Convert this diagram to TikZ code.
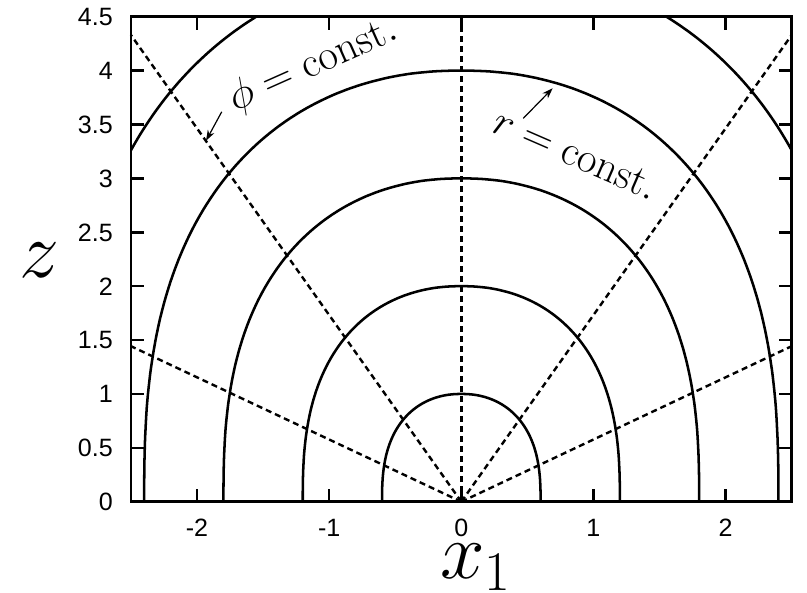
\RequirePackage{fix-cm}
\documentclass[tikz,border=0pt]{standalone}
\usepackage{fontspec}
\newfontfamily\tickfont{Liberation Sans}
\usetikzlibrary{arrows.meta}
\begin{document}
\begin{tikzpicture}[x=99.105pt, y=80.835pt,
  curve/.style={line width=1.9pt, line join=round},
  ray/.style={line width=1.8pt, dash pattern=on 4.5pt off 3pt},
  frame/.style={line width=1.9pt},
  ticklbl/.style={font=\tickfont\fontsize{18.8}{22}\selectfont, inner sep=0pt},
  lbl/.style={font=\fontsize{32}{38}\selectfont, inner sep=0pt},
  axl/.style={font=\fontsize{60}{72}\selectfont, inner sep=0pt},
  pointer/.style={line width=0.9pt, -{Stealth[length=8pt,width=5.5pt]}}]
\useasboundingbox (-3.491,-0.838) rectangle (2.616,4.655);
% r = const curves
\begin{scope}
\clip (-2.5,0) rectangle (2.5,4.5);
\foreach \r in {1,2,3,4,5}{
  \draw[curve] ({-0.6*\r},0)
    -- plot[domain=89.9:0.1, samples=120, variable=\t] ({-0.6*\r*pow(sin(\t),0.93)},{\r*pow(cos(\t),0.76)})
    -- (0,\r)
    -- plot[domain=0.1:89.9, samples=120, variable=\t] ({0.6*\r*pow(sin(\t),0.93)},{\r*pow(cos(\t),0.76)})
    -- ({0.6*\r},0);
}
\end{scope}
% phi = const rays
\coordinate (O) at (0,0);
\coordinate (e0) at (0,4.5);
\coordinate (e1) at (2.5,4.330);
\coordinate (e2) at (-2.5,4.330);
\coordinate (e3) at (2.5,1.443);
\coordinate (e4) at (-2.5,1.443);
\foreach \e in {e0,e1,e2,e3,e4}{\draw[ray] (O) -- (\e);}
% ticks
\foreach \xv in {-2,-1,0,1,2}{
  \draw[frame] (\xv,0) -- ++(0,9.75pt);
  \draw[frame] (\xv,4.5) -- ++(0,-9.75pt);
  \node[ticklbl, anchor=base] at (\xv,-0.325) {\xv};
}
\foreach \yv in {0,0.5,1,1.5,2,2.5,3,3.5,4,4.5}{
  \draw[frame] (-2.5,\yv) -- ++(9.75pt,0);
  \draw[frame] (2.5,\yv) -- ++(-9.75pt,0);
  \node[ticklbl, anchor=base east, yshift=-6.7pt] at (-2.636,\yv) {\yv};
}
\draw[frame] (-2.5,0) rectangle (2.5,4.5);
% labels
\node[lbl, rotate=24, anchor=base east] (phil) at (-0.464,4.302) {$\phi = \mathrm{const.}$};
\node[lbl, rotate=-23.5, anchor=base west] (rl) at (0.2168,3.439) {$r = \mathrm{const.}$};
\coordinate (pt) at (-1.813,3.618);
\coordinate (ph) at (-1.932,3.349);
\draw[pointer] (pt) -- (ph);
\coordinate (rt) at (0.4688,3.557);
\coordinate (rh) at (0.6913,3.836);
\draw[pointer] (rt) -- (rh);
% axis labels
\node[axl, anchor=base] (zl) at (-3.189,2.085) {$z$};
\node[axl, anchor=base west] (xl) at (-0.162,-0.7107) {$x_1$};
\end{tikzpicture}
\end{document}
